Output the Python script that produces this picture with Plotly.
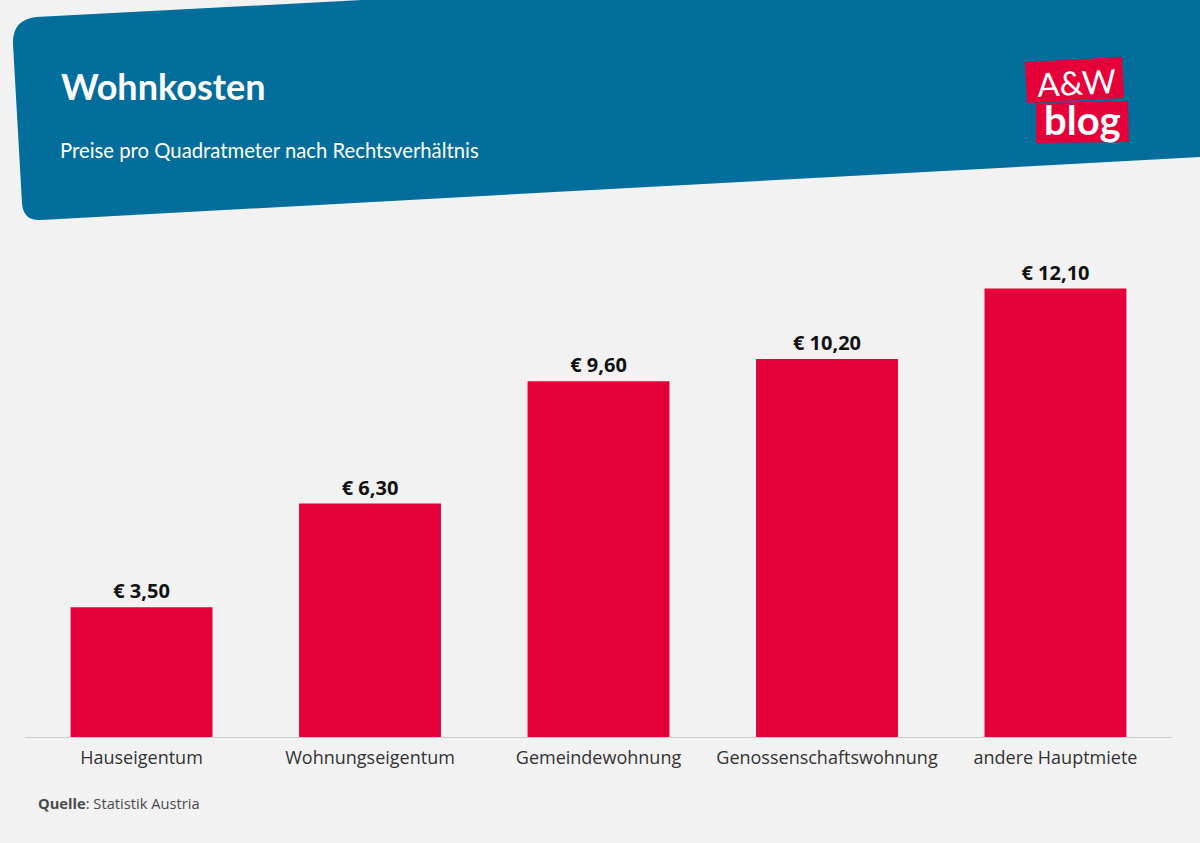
import plotly.graph_objects as go

categories = ['Hauseigentum', 'Wohnungseigentum', 'Gemeindewohnung',
              'Genossenschaftswohnung', 'andere Hauptmiete']
values = [3.5, 6.3, 9.6, 10.2, 12.1]

W, H = 1200, 843
L, R, T, B = 25, 28, 217, 106


# pixel position on the page -> paper coordinates
def px(x):
    return (x - L) / (W - L - R)


def py(y):
    return 1 - (y - T) / (H - T - B)


def path(points):
    return 'M ' + ' L '.join(f'{px(x)},{py(y)}' for x, y in points) + ' Z'


banner = (f'M {px(13)},{py(44)} Q {px(12)},{py(20)} {px(36)},{py(17)} '
          f'L {px(362)},{py(0)} L {px(1200)},{py(0)} L {px(1200)},{py(157)} '
          f'L {px(41)},{py(220)} Q {px(23)},{py(221)} {px(22)},{py(203)} Z')

fig = go.Figure()

fig.add_trace(go.Bar(
    x=categories, y=values,
    marker={'color': '#E6003A', 'line': {'width': 0}},
    texttemplate='€ %{y:.2f}',
    textposition='outside',
    textangle=0,
    cliponaxis=False,
    textfont={'family': 'Open Sans', 'size': 20, 'color': '#111111', 'weight': 'bold'},
))

fig.update_layout(
    width=W, height=H,
    margin={'l': L, 'r': R, 't': T, 'b': B, 'pad': 0, 'autoexpand': False},
    paper_bgcolor='#F2F2F2', plot_bgcolor='#F2F2F2',
    separators=', ',
    bargap=0.379,
    showlegend=False,
    font={'family': 'Open Sans', 'color': '#333333'},
    shapes=[
        {'type': 'path', 'path': banner, 'xref': 'paper', 'yref': 'paper',
         'fillcolor': '#036D9C', 'line': {'width': 0}, 'layer': 'below'},
        {'type': 'path', 'path': path([(1025, 62), (1122, 57), (1124, 98), (1027, 103)]),
         'xref': 'paper', 'yref': 'paper', 'fillcolor': '#E6003A', 'line': {'width': 0}},
        {'type': 'path', 'path': path([(1036, 103), (1128, 101), (1129, 142), (1036, 143)]),
         'xref': 'paper', 'yref': 'paper', 'fillcolor': '#E6003A', 'line': {'width': 0}},
    ],
    annotations=[
        {'text': '<b>Wohnkosten</b>', 'x': px(60), 'y': py(86), 'xref': 'paper', 'yref': 'paper',
         'xanchor': 'left', 'yanchor': 'middle', 'showarrow': False, 'borderpad': 0,
         'font': {'family': 'Lato', 'size': 36, 'color': '#FFFFFF'}},
        {'text': 'Preise pro Quadratmeter nach Rechtsverhältnis', 'x': px(59), 'y': py(150),
         'xref': 'paper', 'yref': 'paper', 'xanchor': 'left', 'yanchor': 'middle', 'showarrow': False,
         'borderpad': 0,
         'font': {'family': 'Lato', 'size': 20.3, 'color': '#FFFFFF'}},
        {'text': '<b>Quelle</b>: Statistik Austria', 'x': px(36), 'y': py(803),
         'xref': 'paper', 'yref': 'paper', 'xanchor': 'left', 'yanchor': 'middle', 'showarrow': False,
         'font': {'family': 'Open Sans', 'size': 14.7, 'color': '#4A4A4A'}},
        {'text': 'A&W', 'x': px(1076), 'y': py(82), 'xref': 'paper', 'yref': 'paper',
         'xanchor': 'center', 'yanchor': 'middle', 'showarrow': False, 'textangle': -3,
         'font': {'family': 'Lato', 'size': 33, 'color': '#FFFFFF'}},
        {'text': '<b>blog</b>', 'x': px(1082), 'y': py(120), 'xref': 'paper', 'yref': 'paper',
         'xanchor': 'center', 'yanchor': 'middle', 'showarrow': False,
         'font': {'family': 'Lato', 'size': 40, 'color': '#FFFFFF'}},
    ],
)

fig.update_xaxes(
    range=[-0.51, 4.51],
    showgrid=False, zeroline=False, ticks='',
    showline=True, linecolor='#CCCCCC', linewidth=1,
    tickfont={'family': 'Open Sans', 'size': 18, 'color': '#333333'},
    ticklabelstandoff=4,
    tickangle=0,
)
fig.update_yaxes(range=[0, 14.03], visible=False)

# the page has a default 8px body margin, drop it so the figure fills the window
fig.write_html('out.html', config={'displayModeBar': False},
               post_script="document.body.style.margin='0';")
